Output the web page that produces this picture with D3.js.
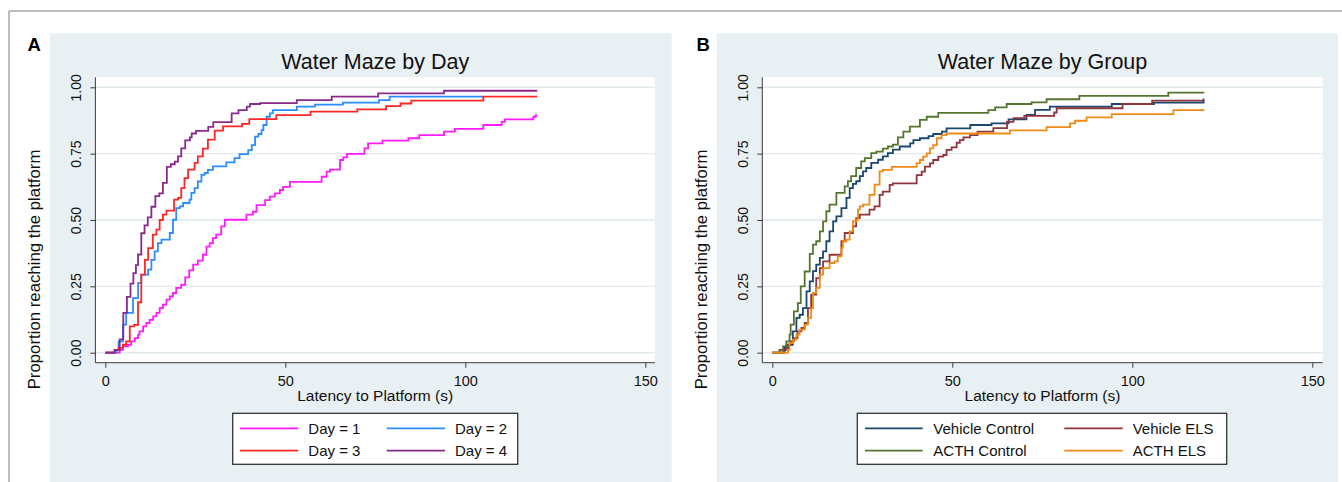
<!DOCTYPE html>
<html>
<head>
<meta charset="utf-8">
<script src="https://cdn.jsdelivr.net/npm/d3@7"></script>
<style>
  html, body { margin: 0; padding: 0; background: #ffffff; }
  svg { display: block; font-family: "Liberation Sans", Arial, sans-serif; }
</style>
</head>
<body>
<svg id="chart" width="1342" height="482"></svg>
<script>
// ---------- DATA ----------
const xTicks = [0, 50, 100, 150];
const yTicks = [0, 0.25, 0.5, 0.75, 1];
const yTickLabels = ["0.00", "0.25", "0.50", "0.75", "1.00"];

const dayLabels = ["Day = 1", "Day = 2", "Day = 3", "Day = 4"];
const dayColors = ["#ff1aff", "#2b8cff", "#ff2626", "#8b2a8d"];
const dayEnds = [120, 105, 120, 120];

const day1 = [[0,0],[4,0.011],[4.9,0.024],[6.3,0.03],[7.2,0.043],[8.2,0.055],[9.1,0.068],[9.5,0.08],[10.5,0.099],[11.4,0.112],[12.3,0.124],[13.3,0.137],[14.2,0.15],[15.1,0.168],[16,0.181],[17,0.2],[17.9,0.212],[18.8,0.225],[19.7,0.244],[21.1,0.256],[22.2,0.284],[23.3,0.31],[24.4,0.332],[25.7,0.347],[27.1,0.369],[28.1,0.40],[29,0.413],[29.9,0.432],[30.8,0.445],[32.2,0.476],[33.2,0.501],[39.2,0.52],[41,0.531],[42,0.556],[44.4,0.575],[45.7,0.588],[47.1,0.60],[48.5,0.613],[49.4,0.625],[51.3,0.644],[60.1,0.663],[61.5,0.682],[62.4,0.69],[65.2,0.726],[66.1,0.736],[67.1,0.749],[72,0.77],[73,0.789],[77,0.799],[84.2,0.808],[87.2,0.82],[94.1,0.833],[97.1,0.843],[105,0.858],[110.1,0.87],[111,0.879],[118.9,0.889],[119.6,0.895]];
const day2 = [[0,0],[3.1,0.011],[3.7,0.043],[4.9,0.106],[5.8,0.15],[7.7,0.206],[9.1,0.263],[10,0.294],[11.9,0.313],[12.8,0.35],[13.7,0.382],[14.6,0.413],[15.6,0.426],[17.9,0.451],[18.8,0.501],[19.7,0.545],[20.7,0.551],[21.6,0.564],[23.4,0.577],[23.9,0.602],[24.8,0.62],[25.7,0.645],[26.7,0.67],[27.6,0.677],[28.5,0.689],[29.9,0.702],[33.6,0.717],[35.9,0.733],[37.3,0.748],[39.7,0.763],[40.7,0.782],[41.6,0.814],[42.5,0.824],[43.4,0.839],[43.9,0.858],[44.8,0.889],[45.7,0.902],[46.5,0.914],[53.2,0.927],[58.2,0.935],[66,0.942],[76,0.952],[79,0.965]];
const day3 = [[0,0],[2.6,0.011],[3.7,0.018],[4.9,0.03],[5.8,0.043],[6.8,0.099],[8,0.105],[9.1,0.19],[10,0.294],[11,0.35],[11.9,0.394],[13.2,0.445],[14.2,0.464],[15.1,0.50],[16,0.52],[17,0.535],[19.1,0.577],[20.2,0.583],[21.1,0.62],[22,0.658],[23,0.69],[24.8,0.715],[25.7,0.74],[27.1,0.769],[28.5,0.803],[30.4,0.837],[32.7,0.853],[38,0.862],[40,0.88],[47.5,0.895],[57,0.908],[70,0.917],[78,0.929],[82,0.939],[85,0.95],[105,0.965]];
const day4 = [[0,0],[2.6,0.01],[4,0.05],[5,0.15],[6,0.21],[7,0.26],[7.8,0.30],[8.5,0.33],[9.1,0.37],[10,0.45],[10.9,0.48],[11.8,0.51],[12.8,0.55],[13.9,0.59],[15,0.60],[16,0.64],[17.1,0.70],[18.2,0.71],[19.3,0.72],[20.2,0.74],[21.1,0.77],[22.2,0.80],[23.5,0.811],[24,0.826],[25.2,0.836],[28.6,0.851],[30,0.869],[35.1,0.902],[37,0.914],[39.3,0.927],[40.2,0.937],[43,0.94],[53.2,0.952],[62.9,0.965],[75.8,0.977],[94.1,0.987]];

const groupLabels = ["Vehicle Control", "Vehicle ELS", "ACTH Control", "ACTH ELS"];
const groupColors = ["#1a476f", "#90353b", "#55752f", "#f08a14"];
const groupEnds = [120, 120, 120, 120];

const vehicleControl = [[0,0],[3.4,0.018],[4.4,0.03],[5.7,0.08],[6.7,0.131],[7.6,0.143],[8.5,0.168],[9.5,0.231],[10.4,0.269],[11.3,0.307],[12.2,0.332],[13.2,0.357],[14.1,0.382],[15,0.42],[15.9,0.457],[16.9,0.495],[17.8,0.514],[19.2,0.545],[20.6,0.583],[21.5,0.62],[22.4,0.636],[23.3,0.646],[24.3,0.665],[25.2,0.683],[26.1,0.696],[27.5,0.715],[29.4,0.727],[30.7,0.74],[32.1,0.752],[33.5,0.765],[35.4,0.777],[38.3,0.789],[39.2,0.801],[41,0.808],[43.4,0.816],[44.7,0.824],[47.1,0.833],[48.4,0.845],[55,0.858],[60.9,0.864],[65.6,0.879],[70.6,0.896],[73,0.915],[77.1,0.927],[94.3,0.937],[106,0.942],[119.8,0.954]];
const vehicleELS = [[0,0],[2,0.011],[3.9,0.03],[5.1,0.043],[6,0.055],[7,0.08],[8.1,0.093],[9,0.112],[9.9,0.168],[10.8,0.219],[12.2,0.281],[13.2,0.319],[14.1,0.344],[15.9,0.369],[19.2,0.42],[20.1,0.451],[22.4,0.476],[23.3,0.507],[24.3,0.52],[27,0.539],[28.4,0.551],[29.8,0.595],[30.7,0.607],[32.6,0.632],[33.5,0.638],[40.1,0.669],[41.5,0.682],[42.4,0.701],[43.8,0.713],[44.7,0.726],[46.1,0.739],[47.5,0.745],[48.4,0.764],[49.8,0.774],[51.2,0.791],[52.1,0.801],[53.1,0.811],[54.9,0.82],[57,0.833],[61.4,0.846],[65.2,0.87],[67,0.884],[70,0.892],[78.3,0.905],[79,0.921],[97.3,0.937],[105.5,0.95]];
const acthControl = [[0,0],[3,0.024],[3.9,0.043],[4.8,0.068],[5.1,0.106],[6,0.156],[7.1,0.187],[7.9,0.25],[9,0.306],[10.4,0.372],[11.3,0.407],[12.2,0.42],[13.2,0.457],[14.1,0.495],[15,0.533],[15.9,0.558],[17.8,0.602],[20.1,0.627],[21,0.646],[21.9,0.665],[23.3,0.696],[24.7,0.721],[25.7,0.733],[27.5,0.752],[28.9,0.758],[30.7,0.769],[32.1,0.777],[33.5,0.784],[34.9,0.811],[36.4,0.833],[38.2,0.852],[41,0.877],[42.9,0.889],[46.1,0.904],[60,0.914],[61.9,0.924],[65.1,0.937],[72,0.943],[76.2,0.955],[85.3,0.968],[110,0.98]];
const acthELS = [[0,0],[4.4,0.011],[4.8,0.036],[5.75,0.049],[6.7,0.068],[7.6,0.087],[9,0.106],[9.9,0.131],[10.8,0.168],[11.3,0.225],[12.2,0.244],[13.2,0.294],[14.1,0.319],[15.9,0.338],[17.3,0.344],[18.2,0.363],[19.2,0.395],[19.6,0.42],[20.6,0.426],[21.5,0.457],[22.4,0.495],[23.3,0.501],[23.8,0.539],[24.3,0.551],[25.2,0.558],[27,0.595],[28.4,0.633],[29.8,0.683],[30.7,0.689],[33.2,0.70],[40.1,0.714],[41,0.726],[41.9,0.739],[42.9,0.751],[43.8,0.77],[44.7,0.782],[45.7,0.808],[47,0.82],[48.4,0.826],[66,0.838],[76.2,0.85],[82.7,0.864],[84.1,0.874],[87.3,0.887],[94.3,0.899],[111.4,0.914]];

const titles = ["Water Maze by Day", "Water Maze by Group"];
const panelLetters = ["A", "B"];
const xTitle = "Latency to Platform (s)";
const yTitle = "Proportion reaching the platform";

// ---------- DRAWING ----------
const svg = d3.select("#chart");
const BG = "#e9f0f3";
const GRID = "#e1eaee";
const AXIS = "#3a3a3a";

// figure frame
svg.append("line").attr("x1", 9).attr("x2", 1342).attr("y1", 11).attr("y2", 11)
  .attr("stroke", "#a8a8a8").attr("stroke-width", 1.5);
svg.append("line").attr("x1", 9).attr("x2", 9).attr("y1", 11).attr("y2", 482)
  .attr("stroke", "#a8a8a8").attr("stroke-width", 1.5);

function drawPanel(cfg) {
  const g = svg.append("g");
  // panel background
  g.append("rect").attr("x", cfg.bgX0).attr("y", 33.3)
    .attr("width", cfg.bgX1 - cfg.bgX0).attr("height", 482 - 33.3).attr("fill", BG);
  // letter
  g.append("text").attr("x", cfg.letterX).attr("y", 50.7)
    .attr("font-size", 18.5).attr("font-weight", "bold").attr("fill", "#000")
    .text(cfg.letter);

  const plotL = cfg.axisX, plotR = cfg.plotR, plotT = 77.3, plotB = 362.7;
  const x = d3.scaleLinear().domain([0, 150]).range([cfg.x0, cfg.x0 + 540]);
  const y = d3.scaleLinear().domain([0, 1]).range([352.7, 87.3]);

  // plot region
  g.append("rect").attr("x", plotL).attr("y", plotT)
    .attr("width", plotR - plotL).attr("height", plotB - plotT).attr("fill", "#ffffff");

  // gridlines
  g.selectAll(".grid").data(yTicks).enter().append("line")
    .attr("x1", plotL).attr("x2", plotR)
    .attr("y1", d => y(d)).attr("y2", d => y(d))
    .attr("stroke", GRID).attr("stroke-width", 1.4);

  // title
  g.append("text").attr("x", (plotL + plotR) / 2).attr("y", 69)
    .attr("text-anchor", "middle").attr("font-size", 21.5).attr("fill", "#111")
    .text(cfg.title);

  // series
  const line = d3.line().x(d => x(d[0])).y(d => y(d[1])).curve(d3.curveStepAfter);
  cfg.series.forEach((s, i) => {
    const pts = s.concat([[cfg.ends[i], s[s.length - 1][1]]]);
    g.append("path").datum(pts).attr("d", line)
      .attr("fill", "none").attr("stroke", cfg.colors[i])
      .attr("stroke-width", 1.8).attr("stroke-linejoin", "miter");
  });

  // y axis
  const yAxis = d3.axisLeft(y).tickValues(yTicks).tickSize(5).tickSizeOuter(0)
    .tickFormat((d, i) => yTickLabels[i]);
  const ya = g.append("g").attr("transform", `translate(${plotL},0)`).call(yAxis);
  ya.select(".domain").attr("d", `M0,${plotT}V${plotB}`).attr("stroke", AXIS);
  ya.selectAll(".tick line").attr("stroke", AXIS);
  ya.selectAll(".tick text")
    .attr("transform", "rotate(-90)")
    .attr("x", 0).attr("y", -14).attr("dy", 0)
    .attr("text-anchor", "middle")
    .attr("font-size", 14).attr("fill", "#111")
    .attr("font-family", "'Liberation Sans', Arial, sans-serif");

  // x axis
  const xAxis = d3.axisBottom(x).tickValues(xTicks).tickSize(5).tickSizeOuter(0);
  const xa = g.append("g").attr("transform", `translate(0,${plotB})`).call(xAxis);
  xa.select(".domain").attr("d", `M${plotL},0H${plotR}`).attr("stroke", AXIS);
  xa.selectAll(".tick line").attr("stroke", AXIS);
  xa.selectAll(".tick text").attr("y", 23.5).attr("dy", 0)
    .attr("font-size", 14.5).attr("fill", "#111")
    .attr("font-family", "'Liberation Sans', Arial, sans-serif");

  // axis titles
  g.append("text").attr("x", (plotL + plotR) / 2).attr("y", 401)
    .attr("text-anchor", "middle").attr("font-size", 15.5).attr("fill", "#111")
    .text(xTitle);
  g.append("text")
    .attr("transform", `translate(${plotL - 55.4},269.5) rotate(-90)`)
    .attr("text-anchor", "middle").attr("font-size", 16.8).attr("fill", "#111")
    .text(yTitle);

  // legend
  const lg = g.append("g");
  lg.append("rect").attr("x", cfg.legX0).attr("y", 413.3)
    .attr("width", cfg.legX1 - cfg.legX0).attr("height", 51)
    .attr("fill", "#ffffff").attr("stroke", "#333").attr("stroke-width", 1.3);
  const rowsY = [428.3, 450.7];
  cfg.labels.forEach((lab, i) => {
    const col = i % 2, row = Math.floor(i / 2);
    const lx = cfg.legCols[col];
    lg.append("line").attr("x1", lx[0]).attr("x2", lx[1])
      .attr("y1", rowsY[row]).attr("y2", rowsY[row])
      .attr("stroke", cfg.colors[i]).attr("stroke-width", 1.8);
    lg.append("text").attr("x", lx[2]).attr("y", rowsY[row] + 5.5)
      .attr("font-size", 15).attr("fill", "#111").text(lab);
  });
}

drawPanel({
  letter: panelLetters[0], letterX: 27.5, title: titles[0],
  bgX0: 50, bgX1: 671.7, axisX: 95.4, plotR: 655, x0: 105.3,
  series: [day1, day2, day3, day4], ends: dayEnds, colors: dayColors, labels: dayLabels,
  legX0: 232.7, legX1: 517.7, legCols: [[240, 298.3, 308.3], [386.7, 445, 455]]
});
drawPanel({
  letter: panelLetters[1], letterX: 696.5, title: titles[1],
  bgX0: 716.7, bgX1: 1338, axisX: 762.3, plotR: 1322.7, x0: 772.3,
  series: [vehicleControl, vehicleELS, acthControl, acthELS], ends: groupEnds, colors: groupColors, labels: groupLabels,
  legX0: 857.3, legX1: 1226.7, legCols: [[865, 922.7, 933.3], [1064.3, 1122.7, 1132.7]]
});
</script>
</body>
</html>
